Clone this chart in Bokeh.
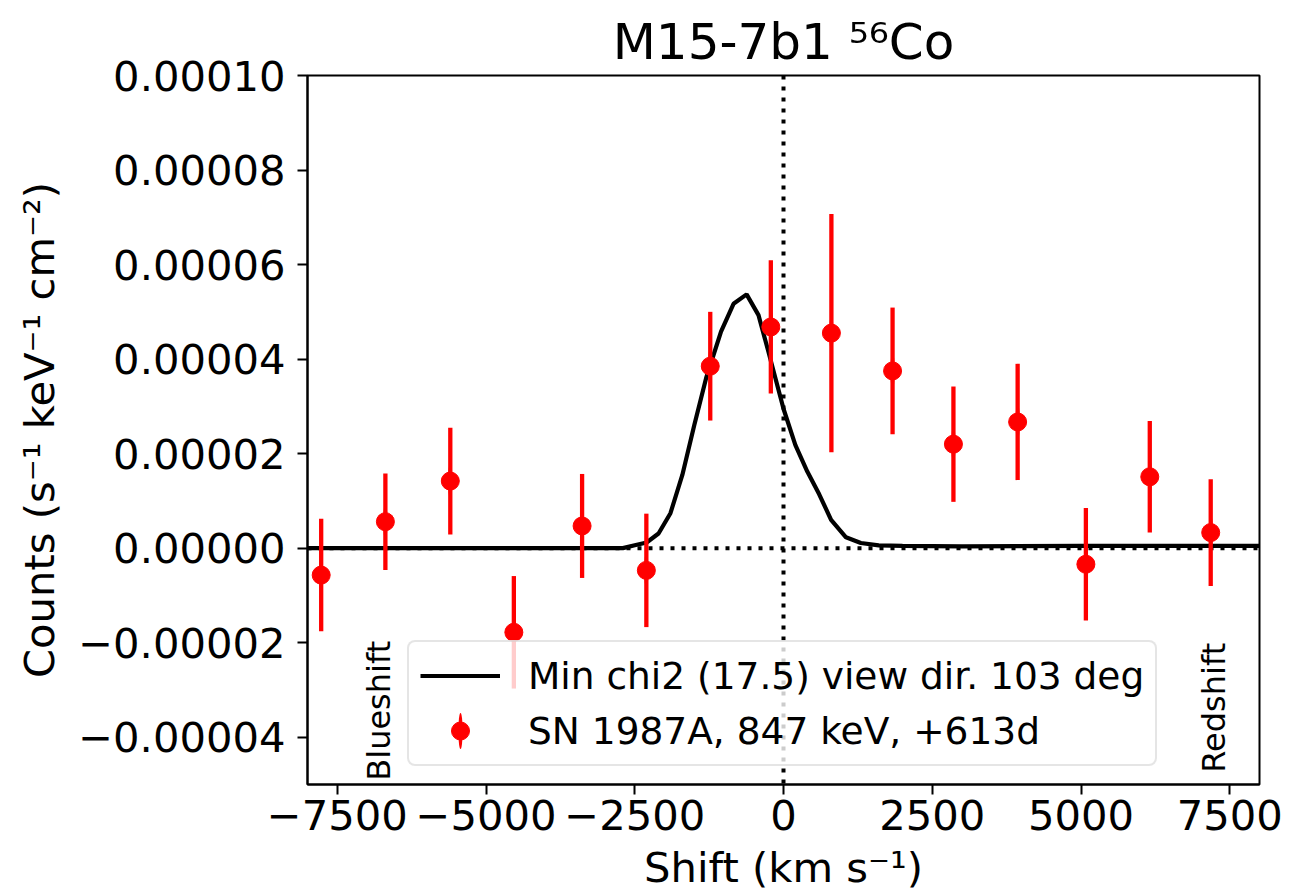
from bokeh.plotting import figure
from bokeh.models import (ColumnDataSource, FixedTicker, CustomJSTickFormatter, Span,
                          Label, Legend, LegendItem, Range1d)
from bokeh.embed import file_html
from bokeh.resources import INLINE

# ---- data ----
shift_obs = [-7770, -6691, -5600, -4532, -3385, -2305, -1231, -213, 805,
             1833, 2856, 3935, 5082, 6156, 7180]
counts_obs = [-5.7e-6, 5.6e-6, 1.42e-5, -1.78e-5, 4.7e-6, -4.7e-6, 3.85e-5, 4.68e-5,
              4.55e-5, 3.75e-5, 2.2e-5, 2.67e-5, -3.4e-6, 1.51e-5, 3.3e-6]
err_obs = [1.19e-5, 1.02e-5, 1.13e-5, 1.19e-5, 1.1e-5, 1.2e-5, 1.15e-5, 1.41e-5,
           2.52e-5, 1.34e-5, 1.22e-5, 1.23e-5, 1.19e-5, 1.18e-5, 1.13e-5]

shift_model = [-8000, -6000, -4000, -3000, -2700, -2500, -2300, -2100, -1900, -1700,
               -1500, -1300, -1050, -840, -620, -420, -250, 0, 200, 400, 600, 800,
               1050, 1300, 1600, 2000, 3000, 5000, 8000]
counts_model = [0.0, 0.0, 0.0, 0.0, 0.0, 6e-7, 1.2e-6, 3.1e-6, 7.4e-6, 1.55e-5,
                2.6e-5, 3.6e-5, 4.58e-5, 5.17e-5, 5.37e-5, 4.93e-5, 4.14e-5, 2.95e-5,
                2.18e-5, 1.62e-5, 1.14e-5, 6.0e-6, 2.3e-6, 1.1e-6, 6e-7, 5e-7, 4e-7,
                5e-7, 5e-7]

x_ticks = [-7500, -5000, -2500, 0, 2500, 5000, 7500]
y_ticks = [-4e-5, -2e-5, 0.0, 2e-5, 4e-5, 6e-5, 8e-5, 1e-4]

title_text = "M15-7b1 \u2075\u2076Co"
x_label = "Shift (km s\u207b\u00b9)"
y_label = "Counts (s\u207b\u00b9 keV\u207b\u00b9 cm\u207b\u00b2)"
model_label = "Min chi2 (17.5) view dir. 103 deg"
obs_label = "SN 1987A, 847 keV, +613d"

FONT = "DejaVu Sans"

p = figure(width=1289, height=896, output_backend="svg", toolbar_location=None,
           x_range=Range1d(-8000, 8000), y_range=Range1d(-5e-5, 1e-4),
           min_border_left=307, min_border_right=30, min_border_top=75,
           min_border_bottom=112, title=title_text)
p.title.text_font = FONT
p.title.text_font_size = "50px"
p.title.text_font_style = "normal"
p.title.text_color = "black"
p.title.align = "center"
p.title.standoff = 10
p.grid.visible = False
p.outline_line_color = "black"
p.outline_line_width = 2
p.outline_line_alpha = 1
p.background_fill_color = "white"
p.border_fill_color = "white"

for ax in (p.xaxis[0], p.yaxis[0]):
    ax.axis_line_width = 2
    ax.axis_line_color = "black"
    ax.major_tick_line_width = 2
    ax.major_tick_line_color = "black"
    ax.major_tick_out = 10
    ax.major_tick_in = 0
    ax.minor_tick_line_color = None
    ax.major_label_text_font = FONT
    ax.major_label_text_font_size = "41.7px"
    ax.major_label_text_color = "black"
    ax.axis_label_text_font = FONT
    ax.axis_label_text_font_size = "41.7px"
    ax.axis_label_text_font_style = "normal"
    ax.axis_label_text_color = "black"

p.xaxis.ticker = FixedTicker(ticks=x_ticks)
p.yaxis.ticker = FixedTicker(ticks=y_ticks)
p.xaxis.formatter = CustomJSTickFormatter(
    code="return (tick < 0 ? '\u2212' : '') + Math.abs(tick).toFixed(0);")
p.yaxis.formatter = CustomJSTickFormatter(
    code="return (tick < 0 ? '\u2212' : '') + Math.abs(tick).toFixed(5);")
p.xaxis.axis_label = x_label
p.yaxis.axis_label = y_label
p.xaxis.major_label_standoff = 5
p.xaxis.axis_label_standoff = 10
p.yaxis.major_label_standoff = 12
p.yaxis.axis_label_standoff = 11

# reference lines
p.add_layout(Span(location=0, dimension="width", line_color="black", line_width=4,
                  line_dash="4 7", level="underlay"))
p.add_layout(Span(location=0, dimension="height", line_color="black", line_width=4,
                  line_dash="4 7", level="underlay"))

src_obs = ColumnDataSource(dict(
    x=shift_obs, y=counts_obs,
    lo=[c - e for c, e in zip(counts_obs, err_obs)],
    hi=[c + e for c, e in zip(counts_obs, err_obs)]))
src_model = ColumnDataSource(dict(x=shift_model, y=counts_model))

model_r = p.line("x", "y", source=src_model, line_color="black", line_width=4.2)
err_r = p.segment(x0="x", y0="lo", x1="x", y1="hi", source=src_obs,
                  line_color="red", line_width=4.3)
# thin vertical stroke (hidden inside the error bars) that gives the legend its bar
bar_key_r = p.ellipse(x="x", y="y", source=src_obs, width=4.3, height=36,
                      width_units="screen", height_units="screen",
                      fill_color="red", line_color=None)
pts_r = p.scatter("x", "y", source=src_obs, size=18, marker="circle",
                  fill_color="red", line_color="red")

p.add_layout(Label(x=-6797, y=-4.92e-5, text="Blueshift", angle=90, angle_units="deg",
                   text_font=FONT, text_font_size="32px", text_align="left",
                   text_baseline="middle", text_color="black"))
p.add_layout(Label(x=7236, y=-4.75e-5, text="Redshift", angle=90, angle_units="deg",
                   text_font=FONT, text_font_size="32px", text_align="left",
                   text_baseline="middle", text_color="black"))

legend = Legend(items=[LegendItem(label=model_label, renderers=[model_r]),
                       LegendItem(label=obs_label, renderers=[bar_key_r, pts_r])],
                location=(100, 18), orientation="vertical",
                label_text_font=FONT, label_text_font_size="37.5px",
                label_text_color="black",
                glyph_width=80, glyph_height=45, label_standoff=28,
                padding=11, spacing=10, margin=0,
                border_line_color="#cccccc", border_line_width=2,
                background_fill_color="white", background_fill_alpha=0.8)
try:
    legend.border_radius = 8
except Exception:
    pass
p.add_layout(legend)

open("out.html", "w").write(file_html(p, INLINE))
